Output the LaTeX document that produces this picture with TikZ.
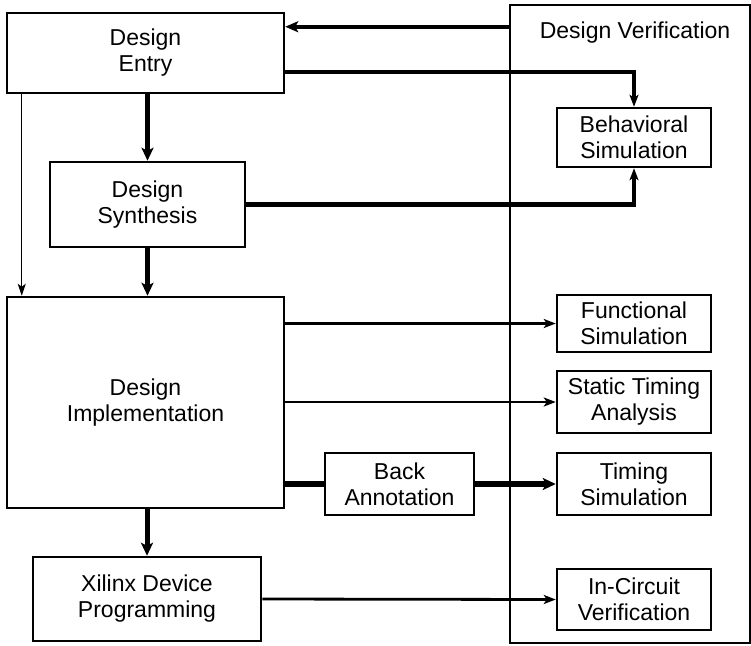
\documentclass[tikz,border=0pt]{standalone}
\usepackage{fontspec}
\setmainfont{Liberation Sans}
\usetikzlibrary{arrows.meta,calc}
\begin{document}
\begin{tikzpicture}[x=1pt,y=-1pt,
  every node/.style={font=\fontsize{23}{26}\selectfont, align=center, inner sep=0pt},
  blk/.style={draw, line width=2.5pt, rectangle},
  sim/.style={blk, minimum width=154pt},
  thickarr/.style={line width=5pt, -{Stealth[length=13pt,width=12pt,inset=3pt]}},
  medarr/.style={line width=4.5pt, -{Stealth[length=13pt,width=11pt,inset=3pt]}},
  thinarr/.style={line width=2.8pt, -{Stealth[length=12pt,width=9pt,inset=3pt]}},
  hairarr/.style={line width=1.2pt, -{Stealth[length=12pt,width=8pt,inset=3pt]}}]
\useasboundingbox (0,0) rectangle (751,645);
\fill[white] (0,0) rectangle (751,645);
% verification frame
\node[draw, line width=2.5pt, minimum width=240pt, minimum height=638pt] (ver) at (630,324) {};
\node (vert) at (635,33) {Design Verification};
% left column
\node[blk, minimum width=277pt, minimum height=80pt] (entry) at (145.5,53) {Design\\Entry};
\node[blk, minimum width=195pt, minimum height=85pt] (synth) at (147.5,204.5) {Design\\Synthesis};
\node[blk, minimum width=277pt, minimum height=211pt] (impl) at (145.5,402.5) {Design\\Implementation};
\node[blk, minimum width=228pt, minimum height=84pt] (xil) at (147,599) {Xilinx Device\\Programming};
\node[blk, minimum width=149pt, minimum height=62pt] (back) at (399.5,484) {Back\\Annotation};
% right column
\node[sim, minimum height=59pt] (beh) at (634,137.5) {Behavioral\\Simulation};
\node[sim, minimum height=57pt] (func) at (634,323.5) {Functional\\Simulation};
\node[sim, minimum height=62pt] (sta) at (634,402) {Static Timing\\Analysis};
\node[sim, minimum height=62pt] (tim) at (634,484) {Timing\\Simulation};
\node[sim, minimum height=61pt] (inc) at (634,599.5) {In-Circuit\\Verification};
% connectors
\coordinate (fb) at ([yshift=-15pt]entry.north east);
\draw[medarr] (ver.west |- fb) -- (fb);
\draw[thinarr, line width=3.5pt] ([yshift=-19pt]entry.east) -| (beh.north);
\draw[thinarr, line width=4.5pt] (synth.east) -| (beh.south);
\draw[thickarr] (synth.north |- entry.south) -- (synth.north);
\draw[thickarr] (synth.south) -- (synth.south |- impl.north);
\draw[hairarr] ([xshift=16pt]entry.south west) -- ([xshift=16pt]impl.north west);
\draw[thinarr] (impl.east |- func.west) -- (func.west);
\draw[thinarr] (impl.east |- sta.west) -- (sta.west);
\draw[line width=6pt] (impl.east |- back.west) -- (back.west);
\draw[thickarr, line width=6pt] (back.east) -- (tim.west);
\draw[thickarr] (xil.north |- impl.south) -- (xil.north);
\draw[thinarr] (xil.east) -- (inc.west);
\end{tikzpicture}
\end{document}
